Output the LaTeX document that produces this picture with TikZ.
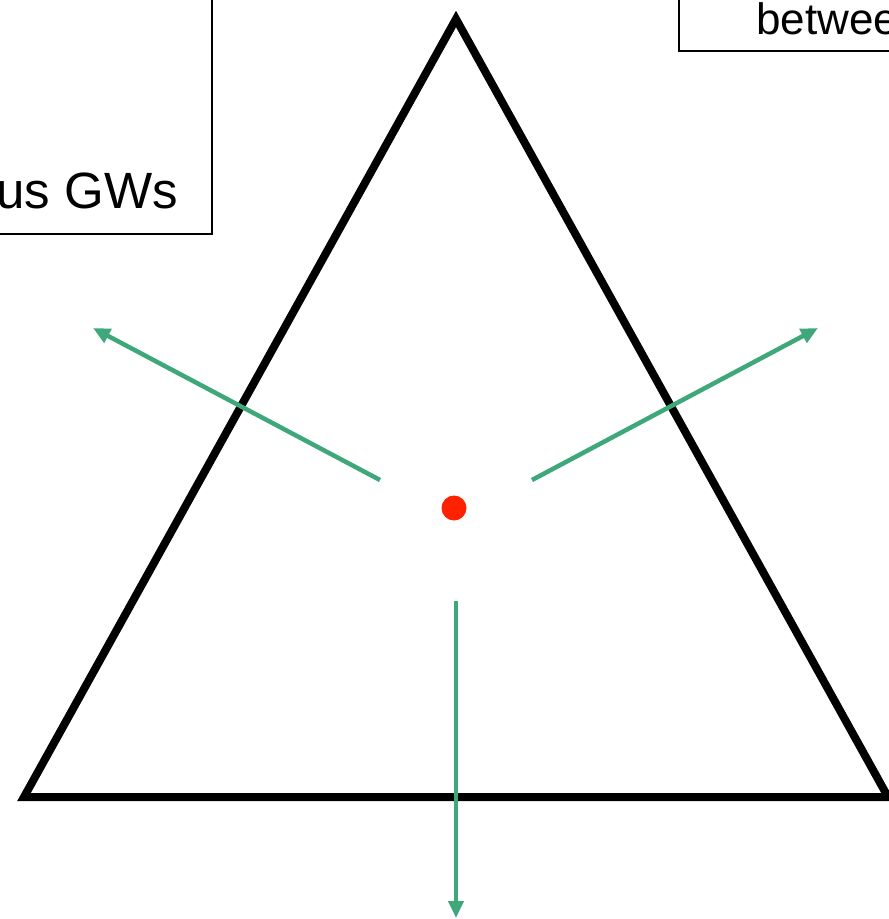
\documentclass[tikz,border=0pt]{standalone}
\usepackage{fontspec}
\setmainfont{Liberation Sans}
\usetikzlibrary{arrows.meta}
\definecolor{arrowgreen}{RGB}{62,168,122}
\definecolor{dotred}{RGB}{255,34,0}
\tikzset{
  tri/.style={draw=black, line width=8pt, line join=miter},
  box/.style={draw=black, line width=1.3pt},
  greenarrow/.style={draw=arrowgreen, line width=4.5pt, -{Triangle[length=17pt,width=15pt]}},
  bigtext/.style={inner sep=0pt, font=\fontsize{51}{58}\selectfont},
  medtext/.style={inner sep=0pt, font=\fontsize{44}{52}\selectfont}
}
\begin{document}
\begin{tikzpicture}[x=1pt,y=-1pt]
\useasboundingbox (0,0) rectangle (889,919);
\clip (0,0) rectangle (889,919);
% text boxes (cropped by the frame)
\draw[box] (-20,-20) rectangle (212,234);
\node[bigtext, anchor=base east] (ltext) at (178,208) {us GWs};
\draw[box] (679,-20) rectangle (920,51);
\node[medtext, anchor=base west] (rtext) at (756,34) {betwee};
% triangle
\coordinate (apex) at (456,19);
\coordinate (bl) at (24,797);
\coordinate (br) at (888,797);
\draw[tri] (apex) -- (bl) -- (br) -- cycle;
% centre dot
\node[circle, fill=dotred, inner sep=0pt, minimum size=25pt] (c) at (454,508) {};
% arrows
\coordinate (s1) at (380,480);
\coordinate (e1) at (93,328);
\coordinate (s2) at (532,480);
\coordinate (e2) at (818,328);
\coordinate (s3) at (456,601);
\coordinate (e3) at (456,918);
\draw[greenarrow] (s1) -- (e1);
\draw[greenarrow] (s2) -- (e2);
\draw[greenarrow] (s3) -- (e3);
\end{tikzpicture}
\end{document}
